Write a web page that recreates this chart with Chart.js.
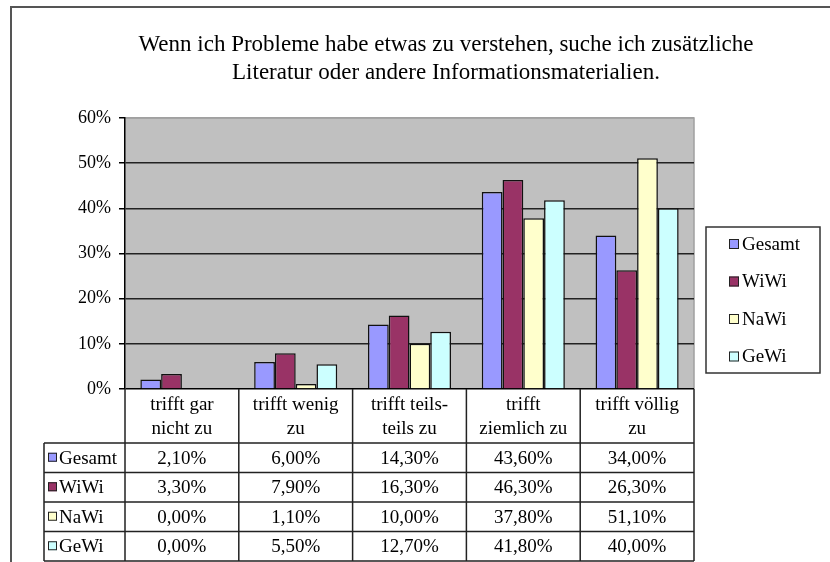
<!DOCTYPE html>
<html>
<head>
<meta charset="utf-8">
<script src="https://cdn.jsdelivr.net/npm/chart.js@4.4.0/dist/chart.umd.min.js"></script>
<style>
  html, body { margin: 0; padding: 0; background: #fff; }
</style>
</head>
<body>
<canvas id="myChart" width="830" height="562"></canvas>
<script>
// Data
const titleLines = [
    'Wenn ich Probleme habe etwas zu verstehen, suche ich zusätzliche',
    'Literatur oder andere Informationsmaterialien.'
];
const categories = [
    ['trifft gar', 'nicht zu'],
    ['trifft wenig', 'zu'],
    ['trifft teils-', 'teils zu'],
    ['trifft', 'ziemlich zu'],
    ['trifft völlig', 'zu']
];
const seriesNames = ['Gesamt', 'WiWi', 'NaWi', 'GeWi'];
const gesamt = [2.1, 6.0, 14.3, 43.6, 34.0];
const wiwi = [3.3, 7.9, 16.3, 46.3, 26.3];
const nawi = [0.0, 1.1, 10.0, 37.8, 51.1];
const gewi = [0.0, 5.5, 12.7, 41.8, 40.0];
const yMax = 60;
const yStep = 10;
const seriesColors = ['#9999FF', '#993366', '#FFFFCC', '#CCFFFF'];

const seriesValues = [gesamt, wiwi, nawi, gewi];
const serif = "'Liberation Serif', 'Times New Roman', serif";

function pct(v) {
    return v.toFixed(2).replace('.', ',') + '%';
}

function marker(ctx, x, y, size, color) {
    ctx.fillStyle = color;
    ctx.fillRect(x, y, size, size);
    ctx.strokeStyle = '#222';
    ctx.lineWidth = 1;
    ctx.strokeRect(x + 0.5, y + 0.5, size - 1, size - 1);
}

const excelLook = {
    id: 'excelLook',
    beforeDraw(chart) {
        const { ctx, chartArea: a } = chart;
        ctx.save();
        ctx.fillStyle = '#fff';
        ctx.fillRect(0, 0, chart.width, chart.height);
        // outer frame (top and left only, rest is cut off)
        ctx.strokeStyle = '#555';
        ctx.lineWidth = 2;
        ctx.beginPath();
        ctx.moveTo(11, chart.height);
        ctx.lineTo(11, 7);
        ctx.lineTo(chart.width, 7);
        ctx.stroke();
        // plot area
        ctx.fillStyle = '#C0C0C0';
        ctx.fillRect(a.left, a.top, a.right - a.left, a.bottom - a.top);
        ctx.strokeStyle = '#A0A0A0';
        ctx.lineWidth = 1.5;
        ctx.beginPath();
        ctx.moveTo(a.left, a.top);
        ctx.lineTo(a.right, a.top);
        ctx.lineTo(a.right, a.bottom);
        ctx.stroke();
        ctx.restore();
    },
    afterDraw(chart) {
        const { ctx, chartArea: a } = chart;
        const xs = chart.scales.x;
        ctx.save();

        // title
        ctx.fillStyle = '#000';
        ctx.font = '23px ' + serif;
        ctx.textAlign = 'center';
        ctx.textBaseline = 'middle';
        titleLines.forEach((t, i) => ctx.fillText(t, 446, 45 + i * 28));

        // data table
        const half = (xs.getPixelForValue(1) - xs.getPixelForValue(0)) / 2;
        const edges = categories.map((c, i) => xs.getPixelForValue(i) - half);
        edges.push(xs.getPixelForValue(categories.length - 1) + half);
        const headTop = a.bottom;
        const headBottom = 443;
        const rowH = 29.5;
        const tableLeft = 44;
        const tableBottom = headBottom + rowH * seriesNames.length;

        ctx.strokeStyle = '#222';
        ctx.lineWidth = 1.5;
        ctx.beginPath();
        edges.forEach(x => { ctx.moveTo(x, headTop); ctx.lineTo(x, tableBottom); });
        ctx.moveTo(tableLeft, headBottom);
        ctx.lineTo(tableLeft, tableBottom);
        for (let r = 0; r <= seriesNames.length; r++) {
            const y = headBottom + r * rowH;
            ctx.moveTo(tableLeft, y);
            ctx.lineTo(edges[edges.length - 1], y);
        }
        ctx.stroke();

        ctx.font = '19px ' + serif;
        ctx.fillStyle = '#000';
        categories.forEach((lines, i) => {
            const cx = xs.getPixelForValue(i);
            lines.forEach((l, j) => ctx.fillText(l, cx, 405 + j * 24));
            seriesValues.forEach((vals, r) => {
                ctx.fillText(pct(vals[i]), cx, headBottom + r * rowH + rowH / 2 + 1);
            });
        });
        ctx.textAlign = 'left';
        seriesNames.forEach((name, r) => {
            const cy = headBottom + r * rowH + rowH / 2;
            marker(ctx, 48, cy - 5, 9, seriesColors[r]);
            ctx.fillStyle = '#000';
            ctx.fillText(name, 59, cy + 1);
        });

        // legend box
        ctx.strokeStyle = '#333';
        ctx.lineWidth = 1.5;
        ctx.strokeRect(706, 227, 114, 146);
        seriesNames.forEach((name, r) => {
            const cy = 244 + r * 37.5;
            marker(ctx, 729, cy - 5, 10, seriesColors[r]);
            ctx.fillStyle = '#000';
            ctx.fillText(name, 742, cy + 1);
        });
        ctx.restore();
    }
};

new Chart(document.getElementById('myChart').getContext('2d'), {
    type: 'bar',
    data: {
        labels: categories,
        datasets: seriesNames.map((name, i) => ({
            label: name,
            data: seriesValues[i],
            backgroundColor: seriesColors[i],
            borderColor: '#111',
            borderWidth: 1.5,
            categoryPercentage: 0.73,
            barPercentage: 1.0
        }))
    },
    options: {
        responsive: false,
        animation: false,
        devicePixelRatio: 1,
        layout: { padding: { left: 0, top: 118, right: 136, bottom: 173 } },
        plugins: {
            legend: { display: false },
            title: { display: false },
            tooltip: { enabled: false }
        },
        scales: {
            x: { display: false },
            y: {
                min: 0,
                max: yMax,
                afterFit: s => { s.width = 125; },
                border: { display: true, color: '#000', width: 1.5 },
                grid: {
                    color: c => c.tick.value === yMax ? '#A0A0A0' : (c.tick.value === 0 ? '#000' : '#222'),
                    lineWidth: 1.5,
                    tickColor: '#000',
                    tickLength: 6,
                    drawTicks: true
                },
                ticks: {
                    stepSize: yStep,
                    padding: 8,
                    color: '#000',
                    font: { family: serif, size: 18 },
                    callback: v => v + '%'
                }
            }
        }
    },
    plugins: [excelLook]
});
</script>
</body>
</html>
